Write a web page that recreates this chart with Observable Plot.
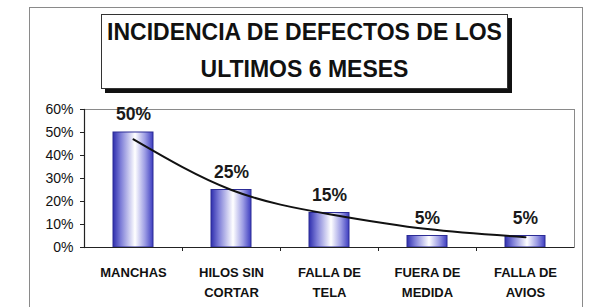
<!DOCTYPE html>
<html>
<head>
<meta charset="utf-8">
<script src="https://cdn.jsdelivr.net/npm/d3@7"></script>
<script src="https://cdn.jsdelivr.net/npm/@observablehq/plot@0.6"></script>
<style>
  html, body { margin: 0; padding: 0; background: #fff; }
  #wrap { position: relative; width: 593px; height: 307px; overflow: hidden; background: #fff;
          font-family: Arial, "Liberation Sans", sans-serif; }
  #chart { position: absolute; left: 0; top: 0; }
  #outer { position: absolute; left: 29px; top: 7px; width: 554px; height: 330px;
           border: 1px solid #8a8a8a; box-sizing: border-box; }
  #titlebox { position: absolute; left: 101px; top: 14px; width: 407px; height: 75px;
              border: 1px solid #333; box-sizing: border-box; background: #fff;
              box-shadow: 4px 4px 0 #111; }
  .tline { position: absolute; left: 0; width: 100%; text-align: center; font-weight: bold;
           font-size: 23px; color: #111; line-height: 1; white-space: nowrap; }
</style>
</head>
<body>
<div id="wrap">
  <div id="chart"></div>
  <div id="outer"></div>
  <div id="titlebox">
    <div class="tline" style="top:6px">INCIDENCIA DE DEFECTOS DE LOS</div>
    <div class="tline" style="top:43px">ULTIMOS 6 MESES</div>
  </div>
</div>
<script>
// Defect categories and their share of incidents (%)
const categories = ["MANCHAS", "HILOS SIN\nCORTAR", "FALLA DE\nTELA", "FUERA DE\nMEDIDA", "FALLA DE\nAVIOS"];
const shares = [50, 25, 15, 5, 5];
// Trend curve readings at each category (%)
const trend = [47, 25, 14.5, 8, 4.5];
// Y axis ticks (%)
const yTicks = [0, 10, 20, 30, 40, 50, 60];

const bars = categories.map((c, i) => ({cat: c, value: shares[i]}));
const trendPts = categories.map((c, i) => ({cat: c, value: trend[i]}));
const inner = categories.slice(0, -1);

const plot = Plot.plot({
  width: 593,
  height: 307,
  marginLeft: 84,
  marginRight: 19,
  marginTop: 109,
  marginBottom: 60,
  style: {fontFamily: "Arial, 'Liberation Sans', sans-serif", fontSize: "13px", color: "#111", background: "transparent", overflow: "visible"},
  x: {domain: categories, paddingInner: 0.59, paddingOuter: 0.295, label: null},
  y: {domain: [0, 60], label: null},
  marks: [
    Plot.frame({stroke: "#8a8a8a", strokeWidth: 1}),
    Plot.barY(bars, {x: "cat", y: "value", fill: "url(#barFill)", stroke: "#2c2c96", strokeWidth: 1}),
    Plot.line(trendPts, {x: "cat", y: "value", curve: "natural", stroke: "#111", strokeWidth: 2}),
    Plot.text(bars, {x: "cat", y: "value", text: d => d.value + "%", dy: -18, fontSize: 17.5, fontWeight: "bold", fill: "#1a1a1a"}),
    Plot.ruleY([0], {stroke: "#222", strokeWidth: 1.2}),
    Plot.ruleX(inner, {x: d => d, y1: 0, y2: 0, dx: 49, insetBottom: -4, stroke: "#222"}),
    Plot.axisY({ticks: yTicks, tickFormat: d => d + "%", tickSize: 4, tickPadding: 7, fontSize: 14, fill: "#111", stroke: "#222"}),
    Plot.axisX({tickSize: 0, tickPadding: 16, fontSize: 13, fontWeight: "bold", fill: "#111", lineAnchor: "top", lineHeight: 1.5}),
    Plot.frame({anchor: "left", stroke: "#222", strokeWidth: 1.2})
  ]
});

// Horizontal blue-white-blue fill used by the bars
d3.select(plot).insert("defs", ":first-child").html(`
  <linearGradient id="barFill" x1="0" x2="1" y1="0" y2="0">
    <stop offset="0" stop-color="#2f2fae"/>
    <stop offset="0.2" stop-color="#7f7fd8"/>
    <stop offset="0.55" stop-color="#ffffff"/>
    <stop offset="0.8" stop-color="#9c9ce4"/>
    <stop offset="1" stop-color="#3d3dc0"/>
  </linearGradient>`);

document.getElementById("chart").appendChild(plot);
</script>
</body>
</html>
